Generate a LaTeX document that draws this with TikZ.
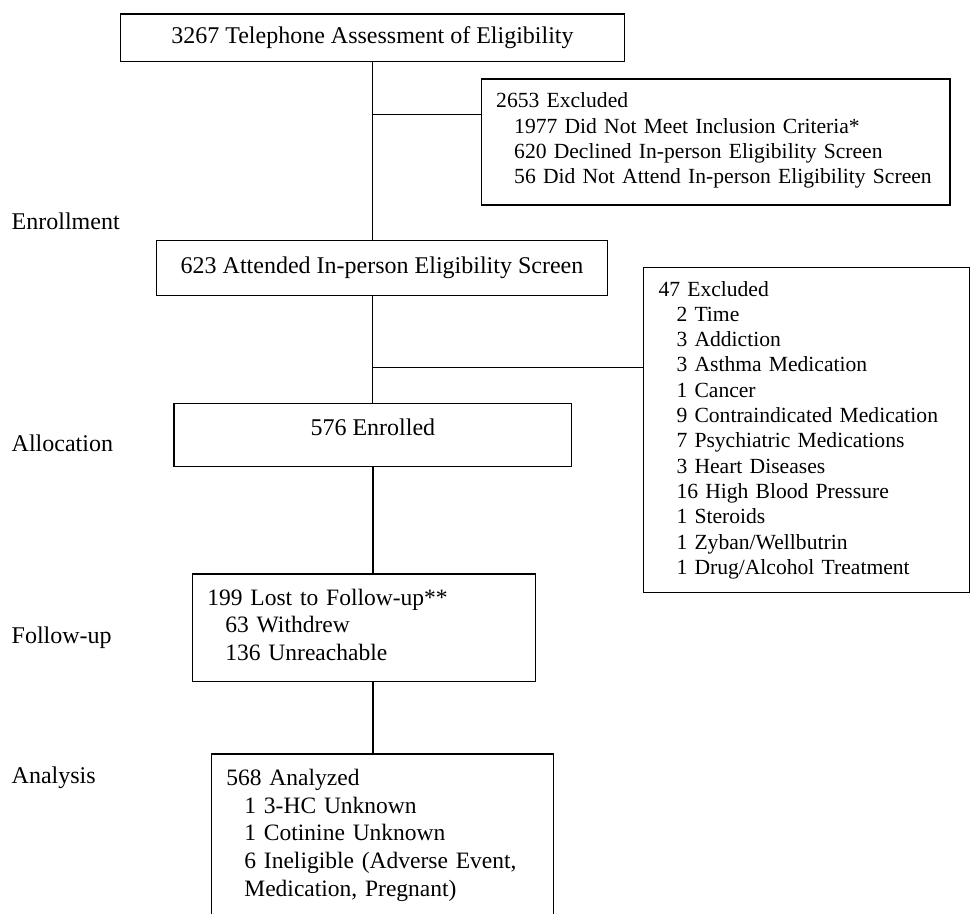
\documentclass[tikz,border=0pt]{standalone}
\usepackage{fontspec}
\setmainfont{Liberation Serif}
\newcommand\mainsize{\fontsize{24}{27.7}\selectfont}
\newcommand\listsize{\fontsize{23.5}{27.7}\selectfont}
\newcommand\sidesize{\fontsize{21.6}{25.3}\selectfont}
\newcommand\indt{\hspace*{18pt}}
\begin{document}
\begin{tikzpicture}[
        x=1pt, y=-1pt,
        line width=1.4pt,
        every node/.style={font=\mainsize},
        box/.style={draw, rectangle, inner sep=0pt, anchor=north west},
        listbox/.style={box, inner xsep=15pt, align=left, font=\listsize},
        sidebox/.style={listbox, font=\sidesize},
        stage/.style={anchor=base west, inner sep=0pt},
    ]
    \useasboundingbox (0,0) rectangle (971,913);

    % stages on the left
    \node[stage] (enrol) at (11,229) {Enrollment};
    \node[stage] (alloc) at (11,451) {Allocation};
    \node[stage] (follow) at (11,643) {Follow-up};
    \node[stage] (analys) at (11,783) {Analysis};

    % main column
    \node[box, minimum width=504.5, minimum height=47.4] (tel) at (119.5,13.3)
        {3267 Telephone Assessment of Eligibility};
    \node[box, minimum width=451.4, minimum height=55] (att) at (155.6,240)
        {623 Attended In-person Eligibility Screen};
    \node[box, minimum width=397.7, minimum height=63, text depth=16] (enr) at (173.3,402.7)
        {576 Enrolled};
    \node[listbox, text width=313.3, minimum height=107.4, text height=10.5] (lost) at (191.7,573.3)
        {199 Lost to Follow-up**\\
         \indt 63 Withdrew\\
         \indt 136 Unreachable};
    \node[listbox, text width=312, minimum height=162.7] (ana) at (210.7,753.3)
        {568 Analyzed\\
         \indt 1 3-HC Unknown\\
         \indt 1 Cotinine Unknown\\
         \indt 6 Ineligible (Adverse Event,\\
         \indt Medication, Pregnant)};

    % exclusions
    \node[sidebox, text width=438.8, minimum height=126, text height=12] (ex1) at (480.5,78.3)
        {2653 Excluded\\
         \indt 1977 Did Not Meet Inclusion Criteria*\\
         \indt 620 Declined In-person Eligibility Screen\\
         \indt \mbox{56 Did Not Attend In-person Eligibility Screen}};
    \node[sidebox, text width=296.2, minimum height=325.3] (ex2) at (642.8,266.7)
        {47 Excluded\\
         \indt 2 Time\\
         \indt 3 Addiction\\
         \indt 3 Asthma Medication\\
         \indt 1 Cancer\\
         \indt 9 Contraindicated Medication\\
         \indt 7 Psychiatric Medications\\
         \indt 3 Heart Diseases\\
         \indt 16 High Blood Pressure\\
         \indt 1 Steroids\\
         \indt 1 Zyban/Wellbutrin\\
         \indt 1 Drug/Alcohol Treatment};

    % connectors
    \coordinate (b1) at (tel.south |- 0,114.7);
    \coordinate (b2) at (tel.south |- 0,367.3);
    \draw (tel.south) -- (tel.south |- att.north);
    \draw (tel.south |- att.south) -- (tel.south |- enr.north);
    \draw (enr.south) -- (enr.south |- lost.north);
    \draw (enr.south |- lost.south) -- (enr.south |- ana.north);
    \draw (b1) -- (b1 -| ex1.west);
    \draw (b2) -- (b2 -| ex2.west);
\end{tikzpicture}
\end{document}
